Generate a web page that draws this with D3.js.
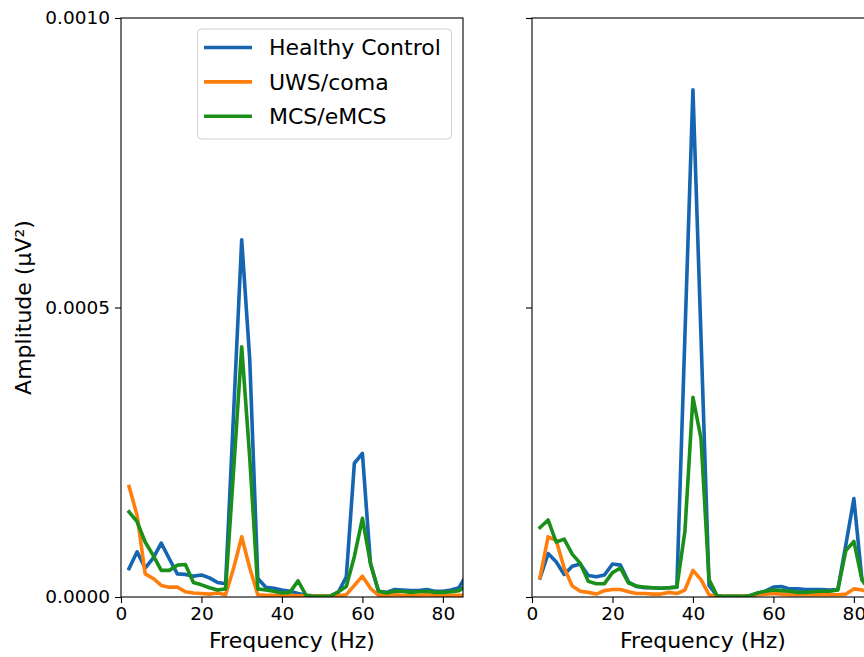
<!DOCTYPE html>
<html>
<head>
<meta charset="utf-8">
<script src="https://cdn.jsdelivr.net/npm/d3@7"></script>
<style>
  html, body { margin: 0; padding: 0; background: #fff; overflow: hidden; }
  svg { display: block; font-family: "DejaVu Sans", sans-serif; }
</style>
</head>
<body>
<svg id="chart" width="864" height="657"></svg>
<script>
// ---------- data ----------
const freqs = [2,4,6,8,10,12,14,16,18,20,22,24,26,28,30,32,34,36,38,40,42,44,46,48,50,52,54,56,58,60,62,64,66,68,70,72,74,76,78,80,82,84,86];

const seriesNames = ["Healthy Control", "UWS/coma", "MCS/eMCS"];
const seriesColors = ["#1565b0", "#ff7f0e", "#1a8f1a"];

// Left panel (30 Hz stimulation)
const hcLeft  = [0.000049,0.000078,0.000050,0.000067,0.000093,0.000066,0.000040,0.000039,0.000036,0.000038,0.000033,0.000025,0.000023,0.000320,0.000617,0.000410,0.000032,0.000017,0.000015,0.000012,0.000010,0.000006,0.000003,0.000002,0.000002,0.000002,0.000008,0.000035,0.000231,0.000248,0.000058,0.000010,0.000008,0.000013,0.000012,0.000011,0.000011,0.000013,0.000010,0.000010,0.000012,0.000016,0.000040];
const uwsLeft = [0.000191,0.000141,0.000040,0.000032,0.000020,0.000017,0.000017,0.000009,0.000007,0.000006,0.000005,0.000007,0.000004,0.000050,0.000104,0.000050,0.000004,0.000003,0.000003,0.000003,0.000003,0.000002,0.000002,0.000002,0.000002,0.000002,0.000002,0.000004,0.000020,0.000036,0.000015,0.000003,0.000003,0.000004,0.000003,0.000003,0.000003,0.000004,0.000003,0.000003,0.000003,0.000003,0.000003];
const mcsLeft = [0.000147,0.000130,0.000095,0.000072,0.000046,0.000046,0.000055,0.000056,0.000025,0.000021,0.000016,0.000012,0.000014,0.000220,0.000432,0.000240,0.000014,0.000012,0.000010,0.000007,0.000008,0.000028,0.000003,0.000001,0.000001,0.000001,0.000009,0.000018,0.000070,0.000136,0.000058,0.000010,0.000007,0.000010,0.000010,0.000008,0.000009,0.000010,0.000008,0.000008,0.000009,0.000011,0.000020];

// Right panel (40 Hz stimulation)
const hcRight  = [0.000033,0.000075,0.000061,0.000039,0.000053,0.000057,0.000037,0.000035,0.000038,0.000057,0.000055,0.000026,0.000018,0.000016,0.000016,0.000015,0.000016,0.000017,0.000450,0.000876,0.000450,0.000020,0.000002,0.000001,0.000001,0.000001,0.000002,0.000006,0.000010,0.000017,0.000018,0.000014,0.000014,0.000013,0.000013,0.000013,0.000012,0.000013,0.000090,0.000170,0.000030,0.000015,0.000015];
const uwsRight = [0.000034,0.000104,0.000098,0.000050,0.000019,0.000010,0.000008,0.000005,0.000011,0.000013,0.000013,0.000009,0.000006,0.000006,0.000005,0.000005,0.000008,0.000006,0.000012,0.000046,0.000030,0.000004,0.000001,0.000001,0.000001,0.000001,0.000001,0.000004,0.000005,0.000006,0.000005,0.000004,0.000004,0.000004,0.000004,0.000004,0.000004,0.000004,0.000005,0.000014,0.000012,0.000008,0.000006];
const mcsRight = [0.000120,0.000133,0.000095,0.000100,0.000074,0.000058,0.000027,0.000023,0.000023,0.000042,0.000050,0.000024,0.000019,0.000017,0.000016,0.000015,0.000016,0.000017,0.000113,0.000345,0.000274,0.000030,0.000002,0.000001,0.000001,0.000001,0.000002,0.000007,0.000010,0.000012,0.000011,0.000010,0.000008,0.000008,0.000009,0.000010,0.000010,0.000012,0.000080,0.000096,0.000030,0.000010,0.000010];

const xTicks = [0, 20, 40, 60, 80];
const yTicks = [0, 0.0005, 0.001];
const yTickLabels = ["0.0000", "0.0005", "0.0010"];
const xLabel = "Frequency (Hz)";
const yLabel = "Amplitude (µV²)";

// ---------- layout ----------
const svg = d3.select("#chart");
const plotTop = 18, plotBottom = 597;
const panelW = 342;
const panels = [
  { left: 121, data: [hcLeft, uwsLeft, mcsLeft], showY: true, legend: true },
  { left: 532, data: [hcRight, uwsRight, mcsRight], showY: false, legend: false }
];

const y = d3.scaleLinear().domain([0, 0.001]).range([plotBottom, plotTop]);

panels.forEach((p, pi) => {
  const x = d3.scaleLinear().domain([0, 85]).range([p.left, p.left + panelW]);
  const g = svg.append("g");

  const clipId = "clip" + pi;
  svg.append("clipPath").attr("id", clipId)
    .append("rect").attr("x", p.left).attr("y", plotTop).attr("width", panelW).attr("height", plotBottom - plotTop);

  const line = d3.line().x((d, i) => x(freqs[i])).y(d => y(d));
  const lg = g.append("g").attr("clip-path", `url(#${clipId})`);
  p.data.forEach((vals, si) => {
    lg.append("path").datum(vals)
      .attr("d", line)
      .attr("fill", "none")
      .attr("stroke", seriesColors[si])
      .attr("stroke-width", 3.6)
      .attr("stroke-linejoin", "round")
      .attr("stroke-linecap", "square");
  });

  // axes
  const xAxis = d3.axisBottom(x).tickValues(xTicks).tickSize(6).tickPadding(4).tickFormat(d3.format("d"));
  const gx = g.append("g").attr("transform", `translate(0,${plotBottom})`).call(xAxis);
  gx.select(".domain").remove();
  gx.selectAll("text").attr("font-size", 18.5).attr("fill", "#000").attr("font-family", "DejaVu Sans");
  gx.selectAll("line").attr("stroke", "#000").attr("stroke-width", 1.1);

  const yAxis = d3.axisLeft(y).tickValues(yTicks).tickSize(6).tickPadding(5)
    .tickFormat((d, i) => p.showY ? yTickLabels[i] : "");
  const gy = g.append("g").attr("transform", `translate(${p.left},0)`).call(yAxis);
  gy.select(".domain").remove();
  gy.selectAll("text").attr("font-size", 18.5).attr("fill", "#000").attr("font-family", "DejaVu Sans");
  gy.selectAll("line").attr("stroke", "#000").attr("stroke-width", 1.1);

  // frame
  g.append("rect").attr("x", p.left).attr("y", plotTop).attr("width", panelW).attr("height", plotBottom - plotTop)
    .attr("fill", "none").attr("stroke", "#000").attr("stroke-width", 1.1);

  // x label
  g.append("text").attr("x", p.left + panelW / 2).attr("y", 648)
    .attr("text-anchor", "middle").attr("font-size", 22).attr("fill", "#000").text(xLabel);

  if (p.showY) {
    g.append("text").attr("transform", `translate(31,${(plotTop + plotBottom) / 2}) rotate(-90)`)
      .attr("text-anchor", "middle").attr("font-size", 22).attr("fill", "#000").text(yLabel);
  }

  if (p.legend) {
    const lgd = g.append("g");
    lgd.append("rect").attr("x", 197.5).attr("y", 29).attr("width", 254).attr("height", 110)
      .attr("rx", 4).attr("fill", "#fff").attr("fill-opacity", 0.8)
      .attr("stroke", "#d0d0d0").attr("stroke-width", 1);
    seriesNames.forEach((name, si) => {
      const cy = 47.5 + si * 34.4;
      lgd.append("line").attr("x1", 204).attr("x2", 252).attr("y1", cy).attr("y2", cy)
        .attr("stroke", seriesColors[si]).attr("stroke-width", 3.6);
      lgd.append("text").attr("x", 269).attr("y", cy).attr("dy", "0.35em")
        .attr("font-size", 22).attr("fill", "#000").text(name);
    });
  }
});
</script>
</body>
</html>
